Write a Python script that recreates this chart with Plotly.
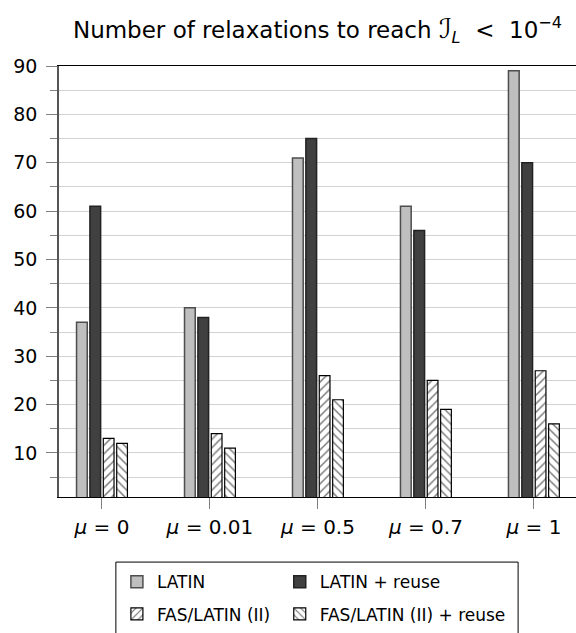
import plotly.graph_objects as go

categories = ["<i>μ</i> = 0", "<i>μ</i> = 0.01", "<i>μ</i> = 0.5", "<i>μ</i> = 0.7", "<i>μ</i> = 1"]
latin = [37, 40, 71, 61, 89]
latin_reuse = [61, 38, 75, 56, 70]
fas_latin = [13, 14, 26, 25, 27]
fas_latin_reuse = [12, 11, 21, 19, 16]
series_names = ["LATIN", "LATIN + reuse", "FAS/LATIN (II)", "FAS/LATIN (II) + reuse"]
y_ticks = [10, 20, 30, 40, 50, 60, 70, 80, 90]

font = "DejaVu Sans"
fig = go.Figure()
fig.add_trace(go.Bar(x=categories, y=latin, name=series_names[0], legend="legend",
                     legendgroup="a",
                     marker=dict(color="#bfbfbf", line=dict(color="#4d4d4d", width=1.5))))
fig.add_trace(go.Bar(x=categories, y=latin_reuse, name=series_names[1], legend="legend2",
                     legendgroup="b",
                     marker=dict(color="#404040", line=dict(color="#222222", width=1.5))))
fig.add_trace(go.Bar(x=categories, y=fas_latin, name=series_names[2], legend="legend",
                     legendgroup="c",
                     marker=dict(color="white", line=dict(color="black", width=1.2),
                                 pattern=dict(shape="/", fgcolor="black", bgcolor="white",
                                              size=6, solidity=0.25))))
fig.add_trace(go.Bar(x=categories, y=fas_latin_reuse, name=series_names[3], legend="legend2",
                     legendgroup="d",
                     marker=dict(color="white", line=dict(color="black", width=1.2),
                                 pattern=dict(shape="\\", fgcolor="black", bgcolor="white",
                                              size=6, solidity=0.25))))

leg_common = dict(orientation="v", xref="paper", yref="paper", yanchor="top",
                  xanchor="left", borderwidth=0, bgcolor="rgba(0,0,0,0)",
                  font=dict(family=font, size=17, color="black"),
                  traceorder="grouped", tracegroupgap=7, itemwidth=30)

fig.update_layout(
    width=576, height=633,
    margin=dict(l=59, r=0, t=66, b=136, autoexpand=False),
    paper_bgcolor="white", plot_bgcolor="white",
    barmode="group", bargap=0.504, bargroupgap=0.2,
    font=dict(family=font, color="black", size=18),
    title=dict(text="Number of relaxations to reach <span style='font-size:27px'><i>ℐ</i></span>"
                    "<sub><i>L</i></sub> &nbsp;&lt;&nbsp; 10<sup>−4</sup>",
               x=0.5, xref="paper", xanchor="center", y=0.953, yref="container", yanchor="middle",
               font=dict(family=font, size=23, color="black")),
    showlegend=True,
    legend=dict(x=0.112, y=-0.156, **leg_common),
    legend2=dict(x=0.427, y=-0.156, **leg_common),
    shapes=[dict(type="rect", xref="paper", yref="paper",
                 x0=0.110, x1=0.888, y0=-0.318, y1=-0.151,
                 line=dict(color="black", width=1), fillcolor="rgba(0,0,0,0)", layer="below")],
)
fig.update_xaxes(range=[-0.398, 4.39], showline=True, linecolor="black", linewidth=1.2,
                 mirror=True, ticks="outside", ticklen=11, tickcolor="#808080", tickwidth=1,
                 showgrid=False, tickfont=dict(size=20, family=font), automargin=False,
                 ticklabelstandoff=1)
fig.update_yaxes(range=[0.9, 90], showline=True, linecolor="#555555", linewidth=1.5,
                 tickvals=y_ticks, ticks="outside", ticklen=11, tickcolor="#808080",
                 showgrid=True, gridcolor="#d3d3d3", gridwidth=1.2, zeroline=False,
                 minor=dict(dtick=5, tick0=0, ticks="outside", ticklen=7, tickcolor="#808080",
                            showgrid=True, gridcolor="#d3d3d3", gridwidth=1.2),
                 tickfont=dict(size=19, family=font), automargin=False,
                 ticklabelstandoff=5)

fig.write_html("out.html", config={"displayModeBar": False},
               post_script="document.body.style.margin='0';")
